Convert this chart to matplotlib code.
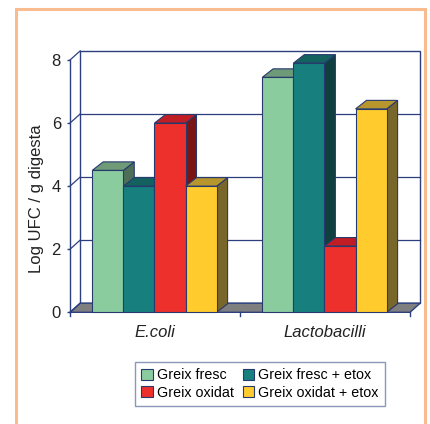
import matplotlib
matplotlib.use("Agg")
import matplotlib.pyplot as plt
from matplotlib.patches import Polygon, Rectangle, Patch

plt.rcParams["font.family"] = ["Liberation Sans", "DejaVu Sans"]

categories = ["E.coli", "Lactobacilli"]
series = ["Greix fresc", "Greix fresc + etox", "Greix oxidat", "Greix oxidat + etox"]
values = {
    "Greix fresc": [4.5, 7.45],
    "Greix fresc + etox": [4.0, 7.9],
    "Greix oxidat": [6.0, 2.1],
    "Greix oxidat + etox": [4.0, 6.45],
}
yticks = [0, 2, 4, 6, 8]

# face, top, side colours per series
colors = {
    "Greix fresc": ("#8acc9e", "#6e9a78", "#4d6f58"),
    "Greix fresc + etox": ("#17807f", "#14625f", "#0f3f3f"),
    "Greix oxidat": ("#ee302c", "#c01e24", "#7d1414"),
    "Greix oxidat + etox": ("#ffcb2d", "#b8962e", "#79662a"),
}
NAVY = "#2b3f7f"
EDGE = "#273a6e"

DX, DY = 0.06, 0.29       # depth offset of walls (data units)
BDX, BDY = 0.064, 0.27    # depth of bars
W = 0.183                 # bar width

fig = plt.figure(figsize=(4.3, 4.24), dpi=100)
# orange frame
fig.patches.append(Rectangle((16 / 430, -0.05), 409 / 430, (424 - 9) / 424 + 0.05,
                             transform=fig.transFigure, fill=False,
                             edgecolor="#f8bc8e", linewidth=2.2))

ax = fig.add_axes([70 / 430, (424 - 312.3) / 424, 340 / 430, 252.3 / 424])
ax.set_xlim(0, 2)
ax.set_ylim(0, 8)
for s in ["top", "right", "bottom"]:
    ax.spines[s].set_visible(False)
ax.spines["left"].set_color(NAVY)
ax.spines["left"].set_linewidth(1.0)
ax.patch.set_alpha(0)

# floor
ax.add_patch(Polygon([(0, 0), (2, 0), (2 + DX, DY), (DX, DY)], closed=True,
                     facecolor="#7f7f7f", edgecolor=NAVY, linewidth=1.0,
                     clip_on=False, zorder=1))
# back wall
ax.add_patch(Rectangle((DX, DY), 2, 8, facecolor="white", edgecolor=NAVY,
                       linewidth=1.0, clip_on=False, zorder=0.5))
for t in yticks[1:-1]:
    ax.plot([DX, 2 + DX], [t + DY, t + DY], color=NAVY, lw=0.9, clip_on=False, zorder=1)
for t in yticks:
    ax.plot([0, DX], [t, t + DY], color=NAVY, lw=0.9, clip_on=False, zorder=1)

# bars
for ci, cat in enumerate(categories):
    for si, name in enumerate(series):
        v = values[name][ci]
        x0 = ci + 0.497 + (si - 2) * W
        x1 = x0 + W
        face, top, side = colors[name]
        z = 3 + ci * 10 + si
        ax.add_patch(Polygon([(x1, 0), (x1 + BDX, BDY), (x1 + BDX, v + BDY), (x1, v)],
                             closed=True, facecolor=side, edgecolor=EDGE, lw=0.8,
                             clip_on=False, zorder=z))
        ax.add_patch(Polygon([(x0, v), (x1, v), (x1 + BDX, v + BDY), (x0 + BDX, v + BDY)],
                             closed=True, facecolor=top, edgecolor=EDGE, lw=0.8,
                             clip_on=False, zorder=z))
        ax.add_patch(Rectangle((x0, 0), W, v, facecolor=face, edgecolor=EDGE, lw=0.8,
                               clip_on=False, zorder=z))

ax.set_yticks(yticks)
ax.tick_params(axis="y", direction="out", length=2.5, width=1.0, color=NAVY,
               labelsize=12, pad=4, labelcolor="#222222")
ax.set_xticks([0, 1, 2])
ax.set_xticklabels([])
ax.tick_params(axis="x", which="major", bottom=False)
ax.set_xticks([0.5, 1.5], minor=True)
ax.set_xticklabels(categories, minor=True, fontstyle="italic", fontsize=12,
                   color="#222222")
ax.tick_params(axis="x", which="minor", length=0, pad=9)
for xt in [0, 1, 2]:
    ax.plot([xt, xt], [0, -0.13], color=NAVY, lw=1.0, clip_on=False)

ax.set_ylabel("Log UFC / g digesta", fontsize=12, color="#222222")
ax.yaxis.set_label_coords(-0.1, 0.45)
ax.yaxis.label.set_position((0, 0.45))
ax.yaxis.set_label_coords(-0.075, 0.45)

handles = [Patch(facecolor=colors[n][0], edgecolor=EDGE, linewidth=0.8) for n in series]
order = [0, 2, 1, 3]
leg = fig.legend([handles[i] for i in order], [series[i] for i in order], ncol=2,
                 loc="center", bbox_to_anchor=(260 / 430, 40 / 424), fontsize=10.3,
                 frameon=True, fancybox=False, edgecolor="#6f7da8",
                 handlelength=0.8, handleheight=0.85, handletextpad=0.3,
                 columnspacing=0.6, borderpad=0.45, labelspacing=0.22,
                 borderaxespad=0)
leg.get_frame().set_linewidth(1.0)

fig.savefig("out.png", dpi=100)
